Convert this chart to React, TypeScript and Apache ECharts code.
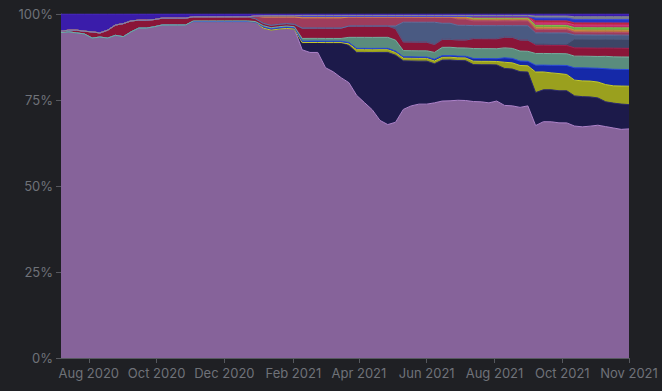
import React, { useEffect, useRef } from "react";
import * as echarts from "echarts";

// Weekly samples, first sample date and spacing
const START_DATE = "2020-07-07";
const STEP_DAYS = 7;

// X-axis tick / label dates
const TICK_DATES = [
  "2020-08-01", "2020-10-01", "2020-12-01", "2021-02-01", "2021-04-01",
  "2021-06-01", "2021-08-01", "2021-10-01", "2021-11-30",
];
const MONTHS = ["Jan", "Feb", "Mar", "Apr", "May", "Jun", "Jul", "Aug", "Sep", "Oct", "Nov", "Dec"];

// Share values (%) per weekly sample, bottom layer first
const PURPLE = [
  94.6, 94.8, 94.5, 94.2, 93.0, 93.3, 93.0, 93.8, 93.4, 94.8,
  95.9, 95.9, 96.3, 96.8, 96.8, 96.8, 96.8, 97.8, 97.8, 97.8,
  97.8, 97.9, 97.9, 98.0, 98.1, 97.6, 95.9, 95.3, 95.6, 95.8,
  95.6, 89.5, 89.0, 89.0, 84.3, 83.1, 81.4, 80.2, 76.5, 74.4,
  72.1, 69.2, 68.0, 68.6, 72.7, 73.5, 73.8, 73.8, 74.4, 74.7,
  75.0, 75.3, 75.0, 75.0, 74.7, 74.4, 74.7, 73.8, 73.3, 73.0,
  73.0, 67.7, 68.9, 68.6, 68.3, 68.0, 67.7, 67.4, 67.4, 67.4,
  67.2, 66.6, 66.0, 66.0,
];
const NAVY = [
  0, 0, 0, 0, 0, 0, 0, 0, 0, 0,
  0, 0, 0, 0, 0, 0, 0, 0, 0, 0,
  0, 0, 0, 0, 0, 0, 0, 0, 0, 0,
  0, 2.1, 2.9, 2.9, 7.3, 8.5, 10.2, 10.8, 12.5, 14.6,
  16.6, 19.8, 21.0, 19.5, 14.2, 13.1, 12.5, 12.5, 11.4, 11.9,
  11.9, 11.6, 11.6, 10.8, 10.8, 11.1, 10.5, 10.8, 10.7, 10.4,
  9.8, 9.6, 9.3, 9.3, 9.3, 9.3, 8.8, 8.8, 8.5, 7.9,
  7.2, 7.2, 7.3, 7.0,
];
const OLIVE = [
  0, 0, 0, 0, 0, 0, 0, 0, 0, 0,
  0, 0, 0, 0, 0, 0, 0, 0, 0, 0,
  0, 0, 0, 0, 0, 0, 0, 0, 0, 0,
  0, 0, 0, 0, 0, 0, 0, 0.5, 0.8, 0.8,
  0.8, 0.8, 0.8, 0.8, 0.8, 0.8, 0.8, 0.8, 0.8, 0.8,
  0.8, 0.8, 0.8, 1.0, 1.0, 1.0, 1.0, 1.8, 1.8, 1.8,
  1.8, 6.0, 5.2, 4.9, 5.0, 4.7, 4.6, 4.6, 4.6, 4.6,
  5.0, 5.0, 5.2, 5.3,
];
const BLUE = [
  0, 0, 0, 0, 0, 0, 0, 0, 0, 0,
  0, 0, 0, 0, 0, 0, 0, 0, 0, 0,
  0, 0, 0, 0, 0, 0, 0.4, 0.4, 0.4, 0.4,
  0.4, 0.4, 0.4, 0.4, 0.4, 0.4, 0.4, 0.4, 0.4, 0.4,
  0.4, 0.4, 0.4, 0.4, 0.4, 0.4, 0.4, 0.4, 0.5, 0.5,
  0.5, 0.5, 0.5, 0.8, 0.8, 0.8, 0.8, 1.3, 1.3, 1.3,
  1.3, 2.0, 2.0, 2.2, 2.4, 2.6, 3.6, 3.8, 3.8, 4.0,
  4.6, 4.8, 4.8, 4.8,
];
const TEAL = [
  0, 0, 0, 0, 0, 0, 0, 0, 0, 0,
  0, 0, 0, 0, 0, 0, 0, 0.2, 0.2, 0.2,
  0.2, 0.2, 0.2, 0.2, 0.2, 0.2, 0.3, 0.3, 0.3, 0.3,
  0.3, 0.8, 0.8, 0.8, 0.8, 0.8, 0.8, 1.5, 3.2, 3.2,
  3.2, 3.2, 3.2, 3.2, 1.8, 1.8, 1.8, 1.8, 2.0, 2.4,
  2.4, 2.4, 2.4, 2.9, 2.9, 2.9, 2.9, 2.9, 2.9, 2.9,
  2.9, 3.4, 3.4, 3.4, 3.4, 3.4, 3.4, 3.4, 3.4, 3.4,
  3.6, 3.6, 3.6, 3.6,
];
const CRIMSON = [
  0.4, 0.5, 0.8, 0.8, 1.8, 1.2, 2.3, 3.0, 3.8, 3.2,
  2.3, 2.3, 2.1, 2.0, 2.0, 2.0, 2.0, 1.2, 1.2, 1.2,
  1.2, 1.2, 1.2, 1.2, 1.2, 0.8, 0.7, 0.7, 0.7, 0.7,
  0.7, 3.0, 3.0, 3.0, 3.0, 3.0, 3.0, 3.3, 3.3, 3.3,
  3.3, 3.3, 3.3, 3.3, 2.5, 2.5, 2.5, 2.5, 2.3, 2.3,
  2.3, 2.3, 2.3, 2.9, 2.9, 2.9, 2.9, 3.1, 3.2, 3.2,
  3.2, 2.4, 2.4, 2.4, 2.4, 2.4, 2.4, 2.4, 2.4, 2.4,
  2.4, 2.5, 2.5, 2.5,
];
const DARK_SLATE = [
  0, 0, 0, 0, 0, 0, 0, 0, 0, 0,
  0, 0, 0, 0, 0, 0, 0, 0, 0, 0,
  0, 0, 0, 0, 0, 0, 0, 0, 0, 0,
  0, 0, 0, 0, 0, 0, 0, 0, 0, 0,
  0, 0, 0, 0, 0, 0, 0, 0, 0, 0,
  0, 0, 0, 0, 0, 0, 0, 0, 0, 0,
  0, 0.4, 0.4, 0.4, 0.4, 0.4, 2.6, 2.6, 2.6, 2.6,
  2.6, 2.6, 2.6, 2.6,
];
const SLATE = [
  0, 0, 0, 0, 0, 0, 0, 0, 0, 0,
  0, 0, 0, 0, 0, 0, 0, 0, 0, 0,
  0, 0, 0, 0, 0, 0, 0, 0, 0, 0,
  0, 0, 0, 0, 0, 0, 0, 0, 0, 0,
  0, 0, 0, 0.8, 5.8, 5.8, 5.8, 5.8, 6.5, 4.7,
  4.7, 4.3, 4.3, 3.8, 3.8, 3.8, 3.8, 3.4, 3.4, 4.2,
  4.2, 3.2, 3.2, 3.2, 3.2, 3.2, 1.2, 1.2, 1.2, 1.2,
  1.2, 1.2, 1.2, 1.2,
];
const ROSE = [
  0, 0, 0, 0, 0, 0, 0, 0, 0, 0,
  0, 0, 0, 0, 0, 0, 0, 0, 0, 0,
  0, 0, 0, 0, 0, 0.8, 1.8, 2.4, 2.1, 1.9,
  2.1, 3.0, 3.0, 3.0, 3.0, 3.0, 3.0, 2.6, 2.6, 2.6,
  2.6, 2.6, 2.6, 2.6, 1.5, 1.5, 1.5, 1.5, 1.5, 1.8,
  1.8, 1.8, 1.8, 1.4, 1.4, 1.4, 1.4, 1.4, 1.4, 1.4,
  1.4, 1.0, 1.0, 1.0, 1.0, 1.0, 0.8, 0.8, 0.8, 0.8,
  0.8, 0.8, 0.8, 0.8,
];
const ORANGE = [
  0, 0, 0, 0, 0, 0, 0, 0, 0, 0,
  0, 0, 0, 0, 0, 0, 0, 0, 0, 0,
  0, 0, 0, 0, 0, 0, 0, 0, 0, 0,
  0, 0, 0, 0, 0, 0, 0, 0, 0, 0,
  0, 0, 0, 0, 0, 0, 0, 0, 0, 0,
  0, 0.6, 0.6, 0.6, 0.6, 0.6, 0.6, 0.6, 0.6, 0.6,
  0.6, 0.6, 0.6, 0.6, 0.6, 0.6, 0.6, 0.6, 0.6, 0.6,
  0.6, 0.6, 0.6, 0.6,
];
const GREEN = [
  0, 0, 0, 0, 0, 0, 0, 0, 0, 0,
  0, 0, 0, 0, 0, 0, 0, 0, 0, 0,
  0, 0, 0, 0, 0, 0, 0.4, 0.4, 0.4, 0.4,
  0.4, 0.4, 0.4, 0.4, 0.4, 0.4, 0.4, 0.2, 0.2, 0.2,
  0.2, 0.2, 0.2, 0.2, 0.2, 0.2, 0.2, 0.2, 0.2, 0.2,
  0.2, 0.2, 0.2, 0.2, 0.2, 0.2, 0.2, 0.2, 0.2, 0.2,
  0.2, 0.6, 0.6, 0.6, 0.6, 0.6, 0.7, 0.7, 0.7, 0.7,
  0.7, 0.7, 0.7, 0.7,
];
const MAGENTA = [
  0, 0, 0, 0, 0, 0, 0, 0, 0, 0,
  0, 0, 0, 0, 0, 0, 0, 0, 0, 0,
  0, 0, 0, 0, 0, 0, 0, 0, 0, 0,
  0, 0, 0, 0, 0, 0, 0, 0, 0, 0,
  0, 0, 0, 0, 0, 0, 0, 0, 0, 0,
  0, 0, 0, 0.4, 0.4, 0.4, 0.4, 0.4, 0.4, 0.4,
  0.4, 0.7, 0.7, 0.7, 0.7, 0.7, 0.8, 0.8, 0.8, 0.8,
  0.8, 0.8, 0.8, 0.8,
];
const RED = [
  0, 0, 0, 0, 0, 0, 0, 0, 0, 0,
  0, 0, 0, 0, 0, 0, 0, 0, 0, 0,
  0, 0, 0, 0, 0, 0, 0, 0, 0, 0,
  0, 0, 0, 0, 0, 0, 0, 0, 0, 0,
  0, 0, 0, 0, 0, 0, 0, 0, 0, 0,
  0, 0, 0, 0, 0, 0, 0, 0, 0, 0,
  0, 0.6, 0.6, 0.6, 0.6, 0.6, 0.6, 0.6, 0.6, 0.6,
  0.6, 0.6, 0.6, 0.6,
];
const ROYAL = [
  0, 0, 0, 0, 0, 0, 0, 0, 0, 0,
  0, 0, 0, 0, 0, 0, 0, 0, 0, 0,
  0, 0, 0, 0, 0, 0, 0, 0, 0, 0,
  0, 0, 0, 0, 0, 0, 0, 0, 0, 0,
  0, 0, 0, 0, 0, 0, 0, 0, 0, 0,
  0, 0, 0, 0, 0, 0, 0, 0, 0, 0,
  0, 0.8, 0.8, 0.8, 0.8, 0.8, 1.0, 1.0, 1.0, 1.0,
  1.0, 1.0, 1.0, 1.0,
];
const GRAY = [
  0, 0, 0, 0, 0, 0, 0, 0, 0, 0,
  0, 0, 0, 0, 0, 0, 0, 0, 0, 0,
  0, 0, 0, 0, 0, 0, 0, 0, 0, 0,
  0, 0.3, 0.3, 0.3, 0.3, 0.3, 0.3, 0.3, 0.3, 0.3,
  0.3, 0.3, 0.3, 0.3, 0.3, 0.3, 0.3, 0.3, 0.3, 0.3,
  0.3, 0.3, 0.3, 0.4, 0.4, 0.4, 0.4, 0.4, 0.4, 0.4,
  0.4, 0.6, 0.6, 0.6, 0.6, 0.6, 0.8, 0.8, 0.8, 0.8,
  0.8, 0.8, 0.8, 0.8,
];
const INDIGO = [
  5.0, 4.7, 4.7, 5.0, 5.2, 5.5, 4.7, 3.2, 2.8, 2.0,
  1.8, 1.8, 1.6, 1.2, 1.2, 1.2, 1.2, 0.8, 0.8, 0.8,
  0.8, 0.8, 0.8, 0.8, 0.8, 0.6, 0.5, 0.5, 0.5, 0.5,
  0.5, 0.4, 0.4, 0.4, 0.4, 0.4, 0.4, 0.4, 0.4, 0.4,
  0.4, 0.4, 0.4, 0.4, 0.4, 0.4, 0.4, 0.4, 0.4, 0.4,
  0.4, 0.4, 0.4, 0.4, 0.4, 0.4, 0.4, 0.4, 0.4, 0.4,
  0.4, 0.6, 0.6, 0.6, 0.6, 0.6, 0.8, 0.8, 0.8, 0.8,
  0.8, 0.8, 0.8, 0.8,
];

const LAYERS = [
  { name: "Purple", data: PURPLE, area: "#86639a", line: "#b084cc" },
  { name: "Navy", data: NAVY, area: "#1c1a4a", line: "#2a2870" },
  { name: "Olive", data: OLIVE, area: "#9aa01e", line: "#c6cc2a" },
  { name: "Blue", data: BLUE, area: "#1529a8", line: "#2a4ae0" },
  { name: "Teal", data: TEAL, area: "#5a8c7d", line: "#78b0a0" },
  { name: "Crimson", data: CRIMSON, area: "#8a1538", line: "#a82050" },
  { name: "Dark slate", data: DARK_SLATE, area: "#3d4566", line: "#505a80" },
  { name: "Slate", data: SLATE, area: "#4a5a82", line: "#6070a0" },
  { name: "Rose", data: ROSE, area: "#9e3c5c", line: "#b85070" },
  { name: "Orange", data: ORANGE, area: "#b8783a", line: "#d09048" },
  { name: "Green", data: GREEN, area: "#6aa83e", line: "#80c850" },
  { name: "Magenta", data: MAGENTA, area: "#c02a6a", line: "#d84080" },
  { name: "Red", data: RED, area: "#b01e3a", line: "#c83048" },
  { name: "Royal", data: ROYAL, area: "#2636c8", line: "#3a4ae0" },
  { name: "Gray", data: GRAY, area: "#777a88", line: "#8a8d9a" },
  { name: "Indigo", data: INDIGO, area: "#3a1caa", line: "#4a2cc0" },
];

function toTs(s: string): number {
  const [y, m, d] = s.split("-").map(Number);
  return new Date(y, m - 1, d).getTime();
}

export default function App() {
  const ref = useRef<HTMLDivElement>(null);

  useEffect(() => {
    if (!ref.current) return;
    const chart = echarts.init(ref.current, null, { renderer: "svg" });

    const n = PURPLE.length;
    const start = toTs(START_DATE);
    const dates: number[] = [];
    for (let i = 0; i < n; i++) {
      const d = new Date(start);
      d.setDate(d.getDate() + i * STEP_DAYS);
      dates.push(d.getTime());
    }
    const totals = dates.map((_, i) => LAYERS.reduce((s, l) => s + l.data[i], 0));
    const ticks = TICK_DATES.map(toTs);
    const font = "Inter, 'Noto Sans', sans-serif";
    const axisColor = "#56585e";
    const labelColor = "#6f7279";

    const series = LAYERS.map((l) => ({
      name: l.name,
      type: "line",
      xAxisIndex: 0,
      stack: "total",
      symbol: "none",
      showSymbol: false,
      smooth: false,
      data: dates.map((t, i) => [t, (l.data[i] / totals[i]) * 100]),
      lineStyle: { width: 1, color: l.line },
      areaStyle: { color: l.area, opacity: 1 },
      itemStyle: { color: l.area },
      emphasis: { disabled: true },
    }));

    chart.setOption({
      animation: false,
      backgroundColor: "#1f2024",
      grid: { left: 61, right: 33, top: 14, bottom: 33 },
      xAxis: [
        {
          type: "time",
          min: dates[0],
          max: dates[n - 1],
          axisLine: { show: true, lineStyle: { color: axisColor, width: 1 } },
          axisTick: { show: false },
          axisLabel: { show: false },
          splitLine: { show: false },
        },
        {
          type: "value",
          position: "bottom",
          min: dates[0],
          max: dates[n - 1],
          axisLine: { show: false },
          axisTick: { show: true, length: 5, lineStyle: { color: axisColor }, customValues: ticks },
          axisLabel: {
            customValues: ticks,
            color: labelColor,
            fontSize: 13,
            fontFamily: font,
            margin: 8,
            hideOverlap: false,
            formatter: (v: number) => {
              const d = new Date(v);
              return MONTHS[d.getMonth()] + " " + d.getFullYear();
            },
          },
          splitLine: { show: false },
        },
      ],
      yAxis: {
        type: "value",
        min: 0,
        max: 100,
        interval: 25,
        axisLine: { show: true, lineStyle: { color: axisColor, width: 1 } },
        axisTick: { show: true, length: 5, lineStyle: { color: axisColor } },
        axisLabel: { formatter: "{value}%", color: labelColor, fontSize: 13, fontFamily: font, margin: 8 },
        splitLine: { show: false },
      },
      series,
    });

    return () => chart.dispose();
  }, []);

  return (
    <div
      ref={ref}
      style={{ position: "fixed", left: 0, top: 0, width: 662, height: 391, background: "#1f2024" }}
    />
  );
}
